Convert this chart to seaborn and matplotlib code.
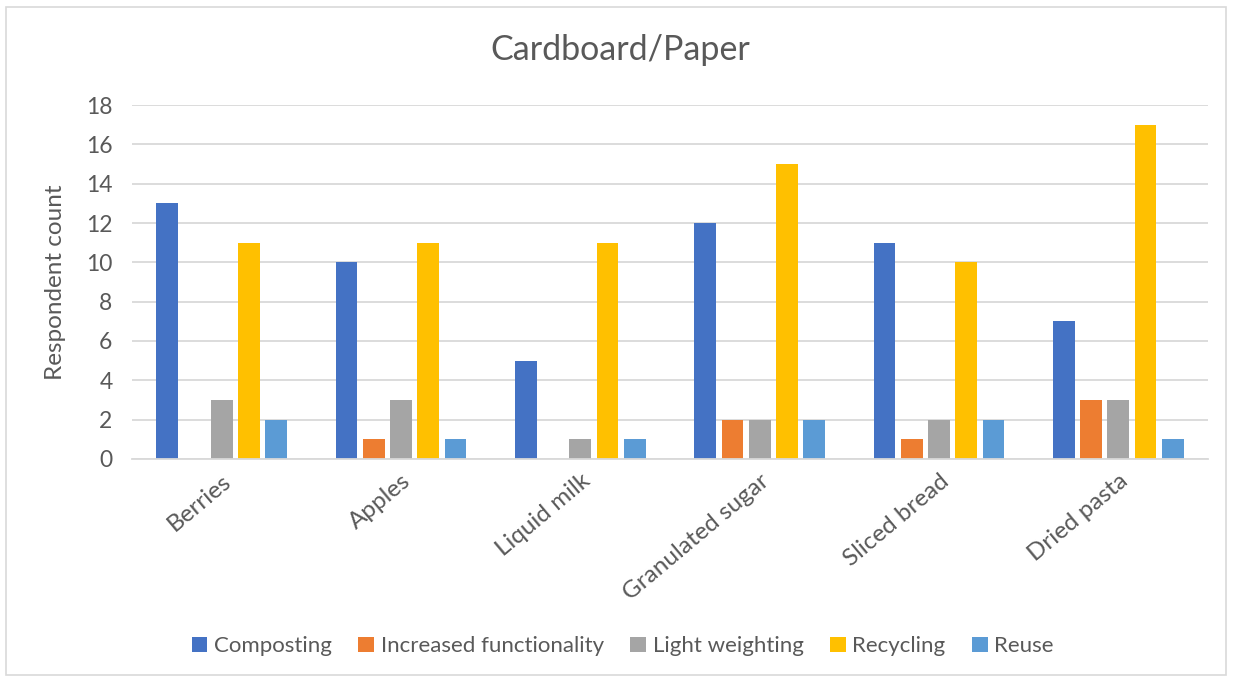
import matplotlib
matplotlib.use("Agg")
import matplotlib.pyplot as plt
from matplotlib.patches import Rectangle
import seaborn as sns
import pandas as pd

categories = ["Berries", "Apples", "Liquid milk", "Granulated sugar", "Sliced bread", "Dried pasta"]
series_names = ["Composting", "Increased functionality", "Light weighting", "Recycling", "Reuse"]
composting = [13, 10, 5, 12, 11, 7]
increased_functionality = [0, 1, 0, 2, 1, 3]
light_weighting = [3, 3, 1, 2, 2, 3]
recycling = [11, 11, 11, 15, 10, 17]
reuse = [2, 1, 1, 2, 2, 1]
y_ticks = [0, 2, 4, 6, 8, 10, 12, 14, 16, 18]

colors = ["#4472C4", "#ED7D31", "#A5A5A5", "#FFC000", "#5B9BD5"]
text_color = "#595959"
grid_color = "#D9D9D9"

rows = []
for name, vals in zip(series_names,
                      [composting, increased_functionality, light_weighting, recycling, reuse]):
    for cat, v in zip(categories, vals):
        rows.append({"Item": cat, "Strategy": name, "Count": v})
df = pd.DataFrame(rows)

sns.set_theme(style="white")
plt.rcParams["font.family"] = ["Lato", "DejaVu Sans"]

fig = plt.figure(figsize=(12.33, 6.81), dpi=100)
ax = fig.add_axes([132 / 1233, 0.326, (1208 - 132) / 1233, 0.8458 - 0.326])

sns.barplot(data=df, x="Item", y="Count", hue="Strategy", order=categories,
            hue_order=series_names, palette=colors, saturation=1, width=0.76, gap=0.2,
            linewidth=0, errorbar=None, ax=ax, legend=True)

ax.set_ylim(0, 18)
ax.set_xlim(-0.5, len(categories) - 0.5)
ax.set_yticks(y_ticks)
ax.yaxis.grid(True, color=grid_color, linewidth=1.3)
ax.set_axisbelow(True)
for s in ["top", "right", "left"]:
    ax.spines[s].set_visible(False)
ax.spines["bottom"].set_color(grid_color)
ax.spines["bottom"].set_linewidth(1.3)
ax.tick_params(axis="y", length=0, labelsize=16.5, colors=text_color, pad=14)
ax.tick_params(axis="x", length=0, labelsize=17.5, colors=text_color, pad=8)
plt.setp(ax.get_xticklabels(), rotation=40, ha="right", rotation_mode="anchor")
ax.set_xlabel("")
ax.set_ylabel("Respondent count", fontsize=17.5, color=text_color, labelpad=14)

fig.suptitle("Cardboard/Paper", fontsize=24.5, color=text_color, x=0.503, y=1 - 50 / 681,
             va="center")

handles, labels = ax.get_legend_handles_labels()
ax.legend_.remove()
fig.legend(handles, labels, loc="center", bbox_to_anchor=(0.505, 0.051), ncol=5,
           frameon=False, fontsize=16, labelcolor=text_color, handlelength=0.7,
           handleheight=0.7, handletextpad=0.3, columnspacing=1.2)

fig.patches.append(Rectangle((6 / 1233, 6 / 681), 1 - 13 / 1233, 1 - 13 / 681,
                             transform=fig.transFigure, fill=False,
                             edgecolor=grid_color, linewidth=1.2))

fig.savefig("out.png", dpi=100, facecolor="white")
